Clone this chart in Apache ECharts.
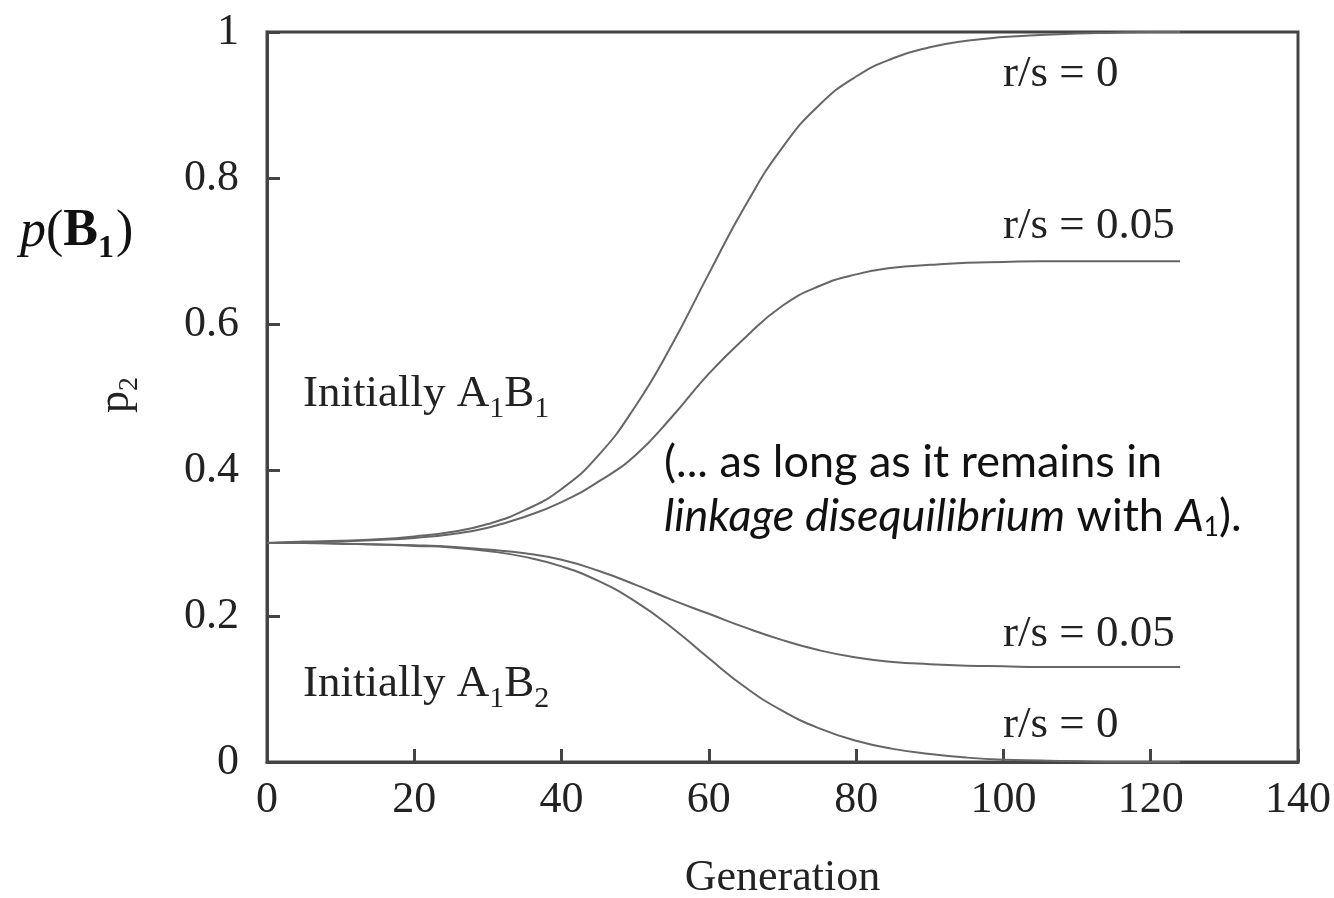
<!DOCTYPE html>
<html>
<head>
    <meta http-equiv="Content-Type" content="text/html; charset=UTF-8">
    <title>Hitchhiking of B1</title>
    <script type="text/javascript" src="https://cdn.jsdelivr.net/npm/echarts@6/dist/echarts.min.js"></script>
    <style>
        html, body { margin: 0; padding: 0; background: #fff; }
        #main { width: 1334px; height: 898px; }
    </style>
</head>
<body>
<div id="main"></div>
<script type="text/javascript">
    // generations sampled along the curves
    var generations = [0, 5, 10, 15, 20, 25, 30, 35, 40, 45, 50, 55, 60, 65, 70, 75, 80, 85, 90, 95, 100, 105, 110, 115, 120, 124];
    // initially A1B1, r/s = 0 and r/s = 0.05
    var upR0 = [0.300, 0.302, 0.303, 0.305, 0.309, 0.315, 0.326, 0.345, 0.374, 0.420, 0.487, 0.572, 0.669, 0.763, 0.842, 0.900, 0.939, 0.964, 0.979, 0.988, 0.993, 0.996, 0.998, 0.999, 1.000, 1.000];
    var upR005 = [0.300, 0.301, 0.302, 0.304, 0.307, 0.312, 0.321, 0.336, 0.356, 0.384, 0.420, 0.473, 0.532, 0.582, 0.625, 0.652, 0.668, 0.677, 0.681, 0.684, 0.685, 0.686, 0.686, 0.686, 0.686, 0.686];
    // initially A1B2, r/s = 0.05 and r/s = 0
    var lowR005 = [0.300, 0.300, 0.299, 0.298, 0.297, 0.295, 0.291, 0.286, 0.277, 0.262, 0.243, 0.222, 0.203, 0.184, 0.167, 0.153, 0.143, 0.137, 0.134, 0.132, 0.131, 0.130, 0.130, 0.130, 0.130, 0.130];
    var lowR0 = [0.300, 0.300, 0.299, 0.298, 0.296, 0.294, 0.289, 0.281, 0.268, 0.248, 0.220, 0.184, 0.142, 0.102, 0.070, 0.046, 0.029, 0.018, 0.011, 0.006, 0.003, 0.002, 0.001, 0.000, 0.000, 0.000];
    var xTicks = [0, 20, 40, 60, 80, 100, 120, 140];
    var yTicks = [0, 0.2, 0.4, 0.6, 0.8, 1];

    function pairs(vals) {
        var out = [];
        for (var i = 0; i < generations.length; i++) {
            out.push([generations[i], vals[i]]);
        }
        return out;
    }

    var serif = 'Liberation Serif';
    var lineStyle = {color: '#666', width: 2};

    function curve(name, vals) {
        return {
            name: name,
            type: 'line',
            smooth: true,
            showSymbol: false,
            lineStyle: lineStyle,
            data: pairs(vals)
        };
    }

    // serif label with subscripts, e.g. 'Initially A{s|1}B{s|1}'
    function serifLabel(left, top, text) {
        return {
            type: 'text', left: left, top: top,
            style: {
                text: text, fill: '#222', font: '45px "Liberation Serif"',
                rich: {s: {fontFamily: serif, fontSize: 30, padding: [30, 0, 0, 0]}}
            }
        };
    }

    var chart = echarts.init(document.getElementById('main'));
    chart.setOption({
        animation: false,
        backgroundColor: '#fff',
        grid: {
            left: 267, right: 36, top: 32, bottom: 136,
            outerBoundsMode: 'none', containLabel: false,
            show: true, borderColor: '#444', borderWidth: 3
        },
        xAxis: {
            type: 'value', min: xTicks[0], max: xTicks[xTicks.length - 1], interval: 20,
            name: 'Generation', nameLocation: 'middle', nameGap: 94,
            nameTextStyle: {fontFamily: serif, fontSize: 44, color: '#222'},
            axisLine: {lineStyle: {color: '#444', width: 3}},
            axisTick: {inside: true, length: 13, lineStyle: {color: '#444', width: 3}},
            axisLabel: {fontFamily: serif, fontSize: 44, color: '#222', margin: 16},
            splitLine: {show: false}
        },
        yAxis: {
            type: 'value', min: yTicks[0], max: yTicks[yTicks.length - 1], interval: 0.2,
            axisLine: {show: true, lineStyle: {color: '#444', width: 3}},
            axisTick: {show: true, inside: true, length: 13, lineStyle: {color: '#444', width: 3}},
            axisLabel: {fontFamily: serif, fontSize: 44, color: '#222', margin: 28},
            splitLine: {show: false}
        },
        series: [
            curve('A1B1 r/s=0', upR0),
            curve('A1B1 r/s=0.05', upR005),
            curve('A1B2 r/s=0.05', lowR005),
            curve('A1B2 r/s=0', lowR0)
        ],
        graphic: [
            // y axis title p2, rotated
            {
                type: 'text', x: 116, y: 395, rotation: Math.PI / 2,
                style: {
                    text: 'p{s|2}', fill: '#222', align: 'center', verticalAlign: 'middle',
                    font: '44px "Liberation Serif"',
                    rich: {s: {fontSize: 28, fontFamily: serif, padding: [28, 0, 0, 0]}}
                }
            },
            // p(B1) label
            {
                type: 'text', left: 20, top: 206,
                style: {
                    text: '{i|p}{n|(}{b|B}{bs|1}{n|)}', fill: '#111',
                    rich: {
                        i: {fontFamily: serif, fontStyle: 'italic', fontSize: 52},
                        n: {fontFamily: serif, fontSize: 52},
                        b: {fontFamily: serif, fontWeight: 'bold', fontSize: 52},
                        bs: {fontFamily: serif, fontWeight: 'bold', fontSize: 32, padding: [34, 2, 0, 0]}
                    }
                }
            },
            serifLabel(303, 372, 'Initially A{s|1}B{s|1}'),
            serifLabel(303, 662, 'Initially A{s|1}B{s|2}'),
            serifLabel(1003, 52, 'r/s = 0'),
            serifLabel(1003, 204, 'r/s = 0.05'),
            serifLabel(1003, 612, 'r/s = 0.05'),
            serifLabel(1003, 703, 'r/s = 0'),
            {
                type: 'text', left: 664, top: 440,
                style: {text: '(... as long as it remains in', fill: '#111', font: '45px Lato'}
            },
            {
                type: 'text', left: 664, top: 494,
                style: {
                    text: '{it|linkage disequilibrium} with {it|A}{s|1}).', fill: '#111', font: '45px Lato',
                    rich: {
                        it: {fontFamily: 'Lato', fontStyle: 'italic', fontSize: 45},
                        s: {fontFamily: 'Lato', fontSize: 26, padding: [22, 0, 0, 0]}
                    }
                }
            }
        ]
    });
</script>
</body>
</html>
